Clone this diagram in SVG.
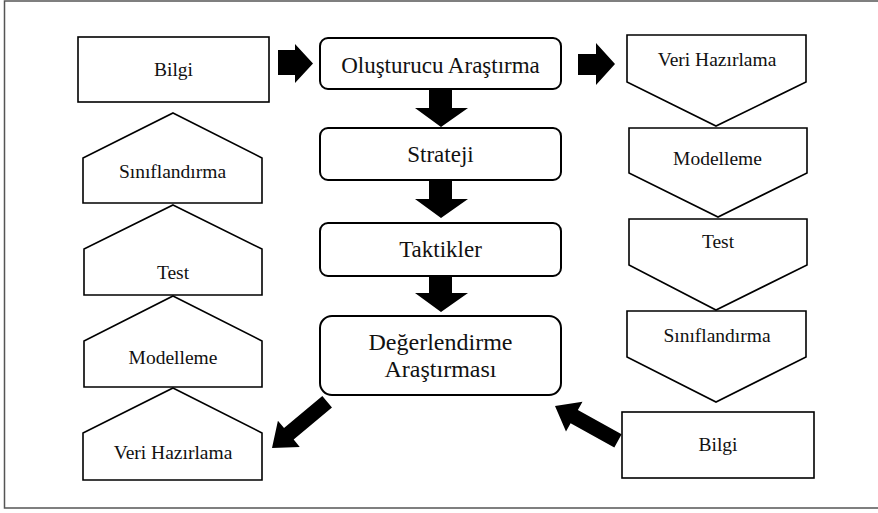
<svg xmlns="http://www.w3.org/2000/svg" width="878" height="513" viewBox="0 0 878 513">
  <style>
    .box { fill: #fff; stroke: #000; stroke-width: 1.6; }
    .rbox { fill: #fff; stroke: #000; stroke-width: 2; }
    text { font-family: 'Liberation Serif', 'DejaVu Serif', serif; fill: #111; text-anchor: middle; }
    .lbl { font-size: 19.5px; }
    .big { font-size: 23px; }
    .arr { fill: #000; }
  </style>
  <defs>
    <!-- block arrow pointing right, tip at the origin -->
    <polygon id="diag" points="-72,-7.5 -22,-7.5 -22,-17 0,0 -22,17 -22,7.5 -72,7.5"/>
  </defs>
  <rect x="0" y="0" width="878" height="513" fill="#fff"/>
  <!-- outer frame -->
  <rect x="4.5" y="1" width="885" height="507" fill="none" stroke="#555" stroke-width="1.5"/>

  <!-- left column -->
  <g id="bilgi-left">
    <rect class="box" x="78" y="37" width="191" height="65"/>
    <text class="lbl" x="173.5" y="76" font-family="Liberation Serif">Bilgi</text>
  </g>
  <g id="siniflandirma-left">
    <polygon class="box" points="173,113 262,158 262,203 83,203 83,158"/>
    <text class="lbl" x="172.5" y="178">Sınıflandırma</text>
  </g>
  <g id="test-left">
    <polygon class="box" points="173,205 262,249 262,295 84,295 84,249"/>
    <text class="lbl" x="173" y="279">Test</text>
  </g>
  <g id="modelleme-left">
    <polygon class="box" points="173,296 262,341 262,387 84,387 84,341"/>
    <text class="lbl" x="173" y="364">Modelleme</text>
  </g>
  <g id="veri-hazirlama-left">
    <polygon class="box" points="173,388 262,433 262,480 83,480 83,433"/>
    <text class="lbl" x="173" y="459">Veri Hazırlama</text>
  </g>

  <!-- centre column -->
  <g id="olusturucu">
    <rect class="rbox" x="320" y="38" width="241" height="51" rx="8"/>
    <text class="big" x="440.5" y="73">Oluşturucu Araştırma</text>
  </g>
  <g id="strateji">
    <rect class="rbox" x="320" y="128" width="241" height="52" rx="8"/>
    <text class="big" x="440.5" y="162">Strateji</text>
  </g>
  <g id="taktikler">
    <rect class="rbox" x="320" y="223" width="241" height="53" rx="8"/>
    <text class="big" x="440.5" y="257">Taktikler</text>
  </g>
  <g id="degerlendirme">
    <rect class="rbox" x="320" y="316" width="241" height="79" rx="12"/>
    <text class="big" x="440.5" y="350" style="font-size:24px">Değerlendirme</text>
    <text class="big" x="440.5" y="377" style="font-size:24px">Araştırması</text>
  </g>

  <!-- right column -->
  <g id="veri-hazirlama-right">
    <polygon class="box" points="627,35 806,35 806,82 716,126 627,82"/>
    <text class="lbl" x="717" y="66">Veri Hazırlama</text>
  </g>
  <g id="modelleme-right">
    <polygon class="box" points="629,128 807,128 807,173 718,217 629,173"/>
    <text class="lbl" x="717.5" y="165">Modelleme</text>
  </g>
  <g id="test-right">
    <polygon class="box" points="629,219 807,219 807,265 716,310 629,265"/>
    <text class="lbl" x="718" y="248">Test</text>
  </g>
  <g id="siniflandirma-right">
    <polygon class="box" points="627,311 806,311 806,357 716,402 627,357"/>
    <text class="lbl" x="717" y="342">Sınıflandırma</text>
  </g>
  <g id="bilgi-right">
    <rect class="box" x="622" y="412" width="192" height="66"/>
    <text class="lbl" x="718" y="451">Bilgi</text>
  </g>

  <!-- connectors -->
  <g id="connectors" class="arr">
    <polygon points="278,50 295,50 295,44 313,63.5 295,83 295,75 278,75"/>
    <polygon points="578,54 596,54 596,43 615,64 596,85 596,75 578,75"/>
    <polygon points="429,89 452,89 452,108 468,108 441,127 415,108 429,108"/>
    <polygon points="429,180 452,180 452,199 468,199 441,218 415,199 429,199"/>
    <polygon points="429,276 452,276 452,293 468,293 441,312 415,293 429,293"/>
    <use href="#diag" transform="translate(272,448) rotate(140)"/>
    <use href="#diag" transform="translate(555,406) rotate(-151)"/>
  </g>
</svg>
